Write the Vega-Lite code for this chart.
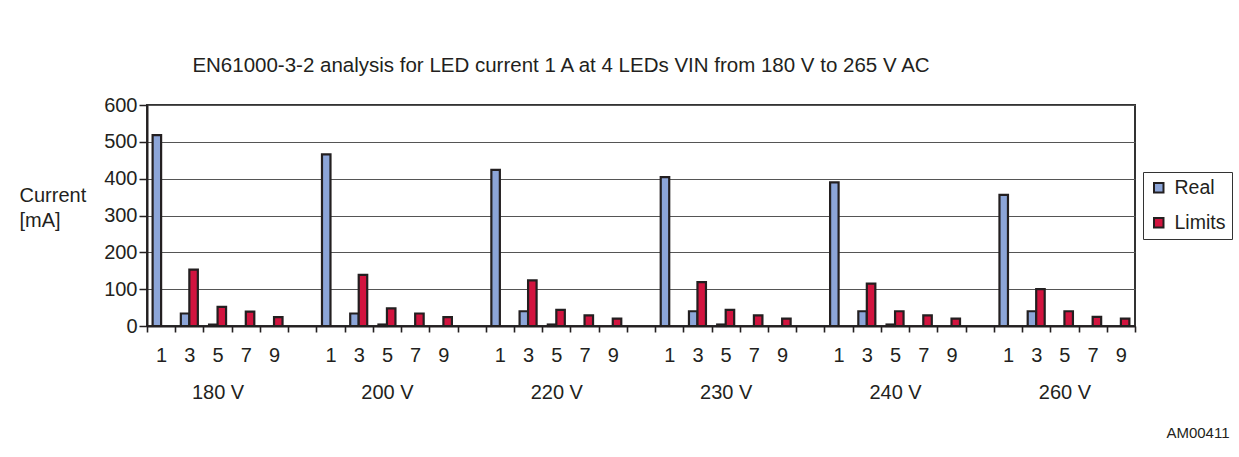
{
  "$schema": "https://vega.github.io/schema/vega-lite/v6.json",
  "autosize": {"type": "none"},
  "padding": {"left": 147, "top": 105, "right": 104, "bottom": 131},
  "width": 988,
  "height": 221,
  "background": "white",
  "title": {
    "text": "EN61000-3-2 analysis for LED current 1 A at 4 LEDs VIN from 180 V to 265 V AC",
    "anchor": "middle",
    "dx": -80,
    "offset": 3,
    "baseline": "alphabetic",
    "font": "Liberation Sans",
    "fontSize": 20.5,
    "fontWeight": "normal",
    "color": "#231f20"
  },
  "data": {
    "values": [
      {"slot": "180 V/1", "series": "Real", "current": 518},
      {"slot": "180 V/3", "series": "Real", "current": 34},
      {"slot": "180 V/3", "series": "Limits", "current": 153},
      {"slot": "180 V/5", "series": "Real", "current": 4},
      {"slot": "180 V/5", "series": "Limits", "current": 52},
      {"slot": "180 V/7", "series": "Limits", "current": 39},
      {"slot": "180 V/9", "series": "Limits", "current": 24},
      {"slot": "200 V/1", "series": "Real", "current": 466},
      {"slot": "200 V/3", "series": "Real", "current": 34},
      {"slot": "200 V/3", "series": "Limits", "current": 139},
      {"slot": "200 V/5", "series": "Real", "current": 4},
      {"slot": "200 V/5", "series": "Limits", "current": 48},
      {"slot": "200 V/7", "series": "Limits", "current": 34},
      {"slot": "200 V/9", "series": "Limits", "current": 24},
      {"slot": "220 V/1", "series": "Real", "current": 424},
      {"slot": "220 V/3", "series": "Real", "current": 40},
      {"slot": "220 V/3", "series": "Limits", "current": 124},
      {"slot": "220 V/5", "series": "Real", "current": 4},
      {"slot": "220 V/5", "series": "Limits", "current": 44},
      {"slot": "220 V/7", "series": "Limits", "current": 29},
      {"slot": "220 V/9", "series": "Limits", "current": 20},
      {"slot": "230 V/1", "series": "Real", "current": 404},
      {"slot": "230 V/3", "series": "Real", "current": 40},
      {"slot": "230 V/3", "series": "Limits", "current": 119},
      {"slot": "230 V/5", "series": "Real", "current": 4},
      {"slot": "230 V/5", "series": "Limits", "current": 44},
      {"slot": "230 V/7", "series": "Limits", "current": 29},
      {"slot": "230 V/9", "series": "Limits", "current": 20},
      {"slot": "240 V/1", "series": "Real", "current": 390},
      {"slot": "240 V/3", "series": "Real", "current": 40},
      {"slot": "240 V/3", "series": "Limits", "current": 115},
      {"slot": "240 V/5", "series": "Real", "current": 4},
      {"slot": "240 V/5", "series": "Limits", "current": 40},
      {"slot": "240 V/7", "series": "Limits", "current": 29},
      {"slot": "240 V/9", "series": "Limits", "current": 20},
      {"slot": "260 V/1", "series": "Real", "current": 356},
      {"slot": "260 V/3", "series": "Real", "current": 40},
      {"slot": "260 V/3", "series": "Limits", "current": 100},
      {"slot": "260 V/5", "series": "Limits", "current": 40},
      {"slot": "260 V/7", "series": "Limits", "current": 25},
      {"slot": "260 V/9", "series": "Limits", "current": 20}
    ]
  },
  "mark": {"type": "bar", "stroke": "#231f20", "strokeWidth": 2.2},
  "encoding": {
    "x": {
      "field": "slot",
      "type": "nominal",
      "sort": null,
      "scale": {
        "domain": [
          "180 V/1", "180 V/3", "180 V/5", "180 V/7", "180 V/9", "180 V/gap",
          "200 V/1", "200 V/3", "200 V/5", "200 V/7", "200 V/9", "200 V/gap",
          "220 V/1", "220 V/3", "220 V/5", "220 V/7", "220 V/9", "220 V/gap",
          "230 V/1", "230 V/3", "230 V/5", "230 V/7", "230 V/9", "230 V/gap",
          "240 V/1", "240 V/3", "240 V/5", "240 V/7", "240 V/9", "240 V/gap",
          "260 V/1", "260 V/3", "260 V/5", "260 V/7", "260 V/9"
        ],
        "paddingInner": 0,
        "paddingOuter": 0
      },
      "axis": {
        "title": "AM00411",
        "titleFont": "Liberation Sans",
        "titleFontSize": 15,
        "titleFontWeight": "normal",
        "titleColor": "#231f20",
        "titleAnchor": "end",
        "titleAlign": "right",
        "titleBaseline": "middle",
        "titleX": 1082,
        "titleY": 106,
        "labelExpr": "split(datum.value,'/')[1] == 'gap' ? '' : (split(datum.value,'/')[1] == '5' ? ['5', split(datum.value,'/')[0]] : split(datum.value,'/')[1])",
        "labelAngle": 0,
        "labelFont": "Liberation Sans",
        "labelFontSize": 20,
        "labelColor": "#231f20",
        "labelBaseline": "top",
        "labelLineHeight": 37.6,
        "labelPadding": 13,
        "labelOverlap": false,
        "labelFlush": false,
        "ticks": true,
        "tickBand": "extent",
        "tickSize": 6,
        "tickColor": "#231f20",
        "tickWidth": 1.6,
        "domainColor": "#231f20",
        "domainWidth": 2,
        "grid": false
      }
    },
    "xOffset": {
      "field": "series",
      "type": "nominal",
      "scale": {"domain": ["Real", "Limits"], "paddingInner": 0, "paddingOuter": 0.66}
    },
    "y": {
      "field": "current",
      "type": "quantitative",
      "scale": {"domain": [0, 600], "nice": false},
      "axis": {
        "values": [0, 100, 200, 300, 400, 500, 600],
        "title": ["Current", "[mA]"],
        "titleAngle": 0,
        "titleAlign": "left",
        "titleBaseline": "alphabetic",
        "titleX": -128,
        "titleY": 96.7,
        "titleLineHeight": 25,
        "titleFont": "Liberation Sans",
        "titleFontSize": 20,
        "titleFontWeight": "normal",
        "titleColor": "#231f20",
        "labelFont": "Liberation Sans",
        "labelFontSize": 20,
        "labelColor": "#231f20",
        "labelPadding": 2,
        "tickSize": 8,
        "tickColor": "#231f20",
        "tickWidth": 1.5,
        "domainColor": "#231f20",
        "domainWidth": 2,
        "grid": true,
        "gridColor": "#555555",
        "gridWidth": 1
      }
    },
    "color": {
      "field": "series",
      "type": "nominal",
      "scale": {"domain": ["Real", "Limits"], "range": ["#8ca5d8", "#d2143f"]},
      "legend": {
        "title": null,
        "orient": "none",
        "legendX": 996,
        "legendY": 67,
        "symbolType": "square",
        "symbolSize": 90,
        "symbolStrokeColor": "#231f20",
        "symbolStrokeWidth": 2,
        "symbolOpacity": 1,
        "labelFont": "Liberation Sans",
        "labelFontSize": 19.5,
        "labelColor": "#231f20",
        "labelOffset": 6,
        "rowPadding": 14,
        "padding": 6,
        "strokeColor": "#333333",
        "fillColor": "white"
      }
    }
  },
  "config": {
    "view": {"stroke": "#333333", "strokeWidth": 2}
  }
}
